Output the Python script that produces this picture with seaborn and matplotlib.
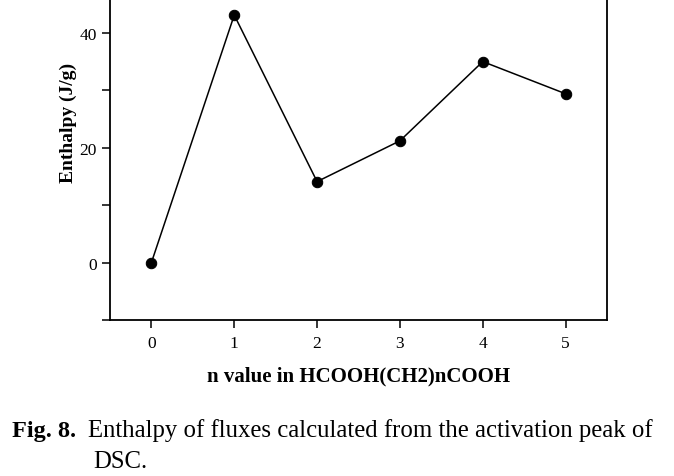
import matplotlib
matplotlib.use("Agg")
import matplotlib.pyplot as plt
import seaborn as sns
import pandas as pd

n_values = [0, 1, 2, 3, 4, 5]
enthalpy = [0.0, 43.1, 14.1, 21.2, 35.0, 29.4]
x_ticks = [0, 1, 2, 3, 4, 5]
y_major = [0, 20, 40]
y_minor = [-10, 10, 30]

sns.set_theme(style="ticks")
plt.rcParams['font.family'] = ['Liberation Serif', 'DejaVu Serif']
plt.rcParams['text.color'] = 'black'
plt.rcParams['axes.labelcolor'] = 'black'

df = pd.DataFrame({"n": n_values, "H": enthalpy})

fig = plt.figure(figsize=(6.74, 4.77), dpi=100)
ax = fig.add_axes([110/674, 1 - 321/477, (607-110)/674, 321/477])
sns.lineplot(data=df, x="n", y="H", ax=ax, color="black", linewidth=1.1,
             marker="o", markersize=7.5, markeredgecolor="black", markerfacecolor="black")

ax.set_xlim(-0.5, 5.5)
ax.set_ylim(-10, 45.9)
ax.set_xticks(x_ticks)
ax.set_xticklabels([str(v) for v in x_ticks])
ax.set_yticks(y_major)
ax.set_yticklabels([str(v) for v in y_major])
ax.set_yticks(y_minor, minor=True)
ax.tick_params(axis="both", which="major", direction="out", length=6, width=1.1,
               labelsize=12.5, color="black", labelcolor="black", pad=5)
ax.tick_params(axis="y", which="major", pad=3.5)
ax.tick_params(axis="y", which="minor", direction="out", length=6, width=1.1, color="black")
for s in ["left", "right", "bottom"]:
    ax.spines[s].set_linewidth(1.3)
    ax.spines[s].set_color("black")
ax.spines["top"].set_visible(False)
ax.set_xlabel("n value in HCOOH(CH2)nCOOH", fontsize=15, fontweight="bold", labelpad=10)
ax.set_ylabel("Enthalpy (J/g)", fontsize=14, fontweight="bold")
ax.yaxis.set_label_coords((77 - 110) / 497, (321 - 123) / 321)

fig.text(12/674, 1 - 437/477, "Fig. 8.", fontsize=17.5, fontweight="bold", va="baseline", ha="left")
fig.text(88/674, 1 - 437/477, "Enthalpy of fluxes calculated from the activation peak of",
         fontsize=17.8, va="baseline", ha="left")
fig.text(93/674, 1 - 468/477, "DSC.", fontsize=17.8, va="baseline", ha="left")

fig.savefig("out.png", dpi=100)
